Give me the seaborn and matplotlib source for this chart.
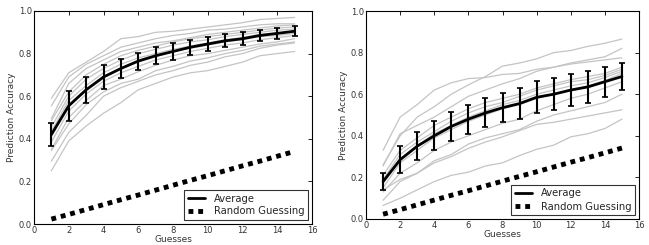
import numpy as np
import matplotlib
matplotlib.use("Agg")
import matplotlib.pyplot as plt
import seaborn as sns

guesses = list(range(1, 16))

# random guessing baseline
random_guess = [0.023, 0.045, 0.068, 0.091, 0.114, 0.136, 0.159, 0.182,
                0.205, 0.227, 0.250, 0.273, 0.295, 0.318, 0.341]

# left panel
left_avg = [0.42, 0.555, 0.63, 0.69, 0.73, 0.765, 0.79, 0.81, 0.83, 0.845,
            0.86, 0.87, 0.885, 0.895, 0.905]
left_err = [0.055, 0.07, 0.06, 0.055, 0.045, 0.04, 0.04, 0.04, 0.035, 0.035,
            0.03, 0.03, 0.027, 0.025, 0.023]
left_users = [
    [0.59, 0.71, 0.76, 0.81, 0.87, 0.88, 0.90, 0.905, 0.915, 0.925, 0.935, 0.945, 0.96, 0.965, 0.97],
    [0.555, 0.69, 0.75, 0.79, 0.83, 0.85, 0.87, 0.885, 0.895, 0.91, 0.915, 0.925, 0.935, 0.94, 0.94],
    [0.495, 0.66, 0.73, 0.77, 0.81, 0.83, 0.85, 0.86, 0.875, 0.89, 0.90, 0.91, 0.92, 0.93, 0.935],
    [0.485, 0.62, 0.70, 0.75, 0.79, 0.815, 0.835, 0.855, 0.87, 0.88, 0.89, 0.90, 0.91, 0.92, 0.925],
    [0.455, 0.60, 0.68, 0.73, 0.77, 0.80, 0.82, 0.84, 0.855, 0.865, 0.88, 0.89, 0.90, 0.91, 0.915],
    [0.435, 0.58, 0.65, 0.71, 0.75, 0.78, 0.80, 0.82, 0.835, 0.85, 0.865, 0.875, 0.89, 0.895, 0.905],
    [0.41, 0.56, 0.63, 0.69, 0.73, 0.76, 0.785, 0.81, 0.825, 0.84, 0.855, 0.865, 0.88, 0.885, 0.895],
    [0.385, 0.53, 0.61, 0.67, 0.71, 0.74, 0.77, 0.79, 0.81, 0.825, 0.84, 0.85, 0.865, 0.875, 0.885],
    [0.35, 0.50, 0.58, 0.65, 0.68, 0.715, 0.745, 0.77, 0.79, 0.80, 0.815, 0.83, 0.845, 0.855, 0.87],
    [0.345, 0.47, 0.56, 0.62, 0.66, 0.68, 0.72, 0.74, 0.765, 0.78, 0.80, 0.815, 0.835, 0.845, 0.855],
    [0.295, 0.43, 0.51, 0.60, 0.64, 0.67, 0.70, 0.72, 0.745, 0.76, 0.785, 0.80, 0.825, 0.84, 0.85],
    [0.25, 0.39, 0.46, 0.52, 0.57, 0.63, 0.66, 0.69, 0.71, 0.72, 0.74, 0.76, 0.79, 0.80, 0.81],
]

# right panel
right_avg = [0.18, 0.285, 0.35, 0.40, 0.445, 0.48, 0.51, 0.535, 0.555, 0.585,
             0.60, 0.62, 0.635, 0.66, 0.685]
right_err = [0.042, 0.065, 0.068, 0.07, 0.07, 0.07, 0.07, 0.07, 0.075, 0.077,
             0.078, 0.075, 0.077, 0.073, 0.065]
right_users = [
    [0.33, 0.49, 0.55, 0.62, 0.655, 0.675, 0.68, 0.695, 0.70, 0.72, 0.73, 0.745, 0.755, 0.765, 0.775],
    [0.26, 0.40, 0.49, 0.54, 0.60, 0.645, 0.685, 0.735, 0.75, 0.77, 0.80, 0.81, 0.83, 0.845, 0.865],
    [0.255, 0.41, 0.45, 0.49, 0.54, 0.59, 0.62, 0.65, 0.675, 0.71, 0.73, 0.75, 0.765, 0.78, 0.82],
    [0.21, 0.33, 0.39, 0.45, 0.49, 0.53, 0.56, 0.58, 0.60, 0.63, 0.65, 0.67, 0.685, 0.70, 0.73],
    [0.19, 0.31, 0.37, 0.42, 0.47, 0.51, 0.54, 0.56, 0.59, 0.62, 0.64, 0.66, 0.67, 0.69, 0.72],
    [0.17, 0.29, 0.35, 0.41, 0.45, 0.49, 0.52, 0.55, 0.57, 0.60, 0.62, 0.64, 0.655, 0.68, 0.71],
    [0.15, 0.27, 0.33, 0.39, 0.43, 0.47, 0.50, 0.53, 0.55, 0.58, 0.60, 0.62, 0.64, 0.665, 0.70],
    [0.13, 0.22, 0.27, 0.33, 0.37, 0.40, 0.43, 0.46, 0.48, 0.52, 0.55, 0.58, 0.60, 0.63, 0.66],
    [0.14, 0.19, 0.22, 0.28, 0.31, 0.36, 0.39, 0.41, 0.43, 0.47, 0.50, 0.52, 0.54, 0.56, 0.60],
    [0.09, 0.18, 0.22, 0.27, 0.30, 0.34, 0.37, 0.395, 0.425, 0.455, 0.465, 0.48, 0.495, 0.51, 0.525],
    [0.065, 0.10, 0.14, 0.18, 0.21, 0.225, 0.255, 0.27, 0.305, 0.335, 0.355, 0.395, 0.41, 0.435, 0.48],
]

sns.set_style("white")
plt.rcParams['font.family'] = ['DejaVu Sans']

W, H = 649, 245
fig = plt.figure(figsize=(W / 100, H / 100), dpi=100)
ax1 = fig.add_axes([34 / W, 1 - 224 / H, 278 / W, 213 / H])
ax2 = fig.add_axes([366 / W, 1 - 219 / H, 273 / W, 208 / H])

panels = [(ax1, left_users, left_avg, left_err), (ax2, right_users, right_avg, right_err)]
for ax, users, avg, err in panels:
    for u in users:
        sns.lineplot(x=guesses, y=u, ax=ax, color="#c4c4c4", lw=0.9, legend=False)
    ax.errorbar(guesses, avg, yerr=err, fmt="none", ecolor="black",
                elinewidth=1.5, capsize=2, capthick=1.2, zorder=4)
    sns.lineplot(x=guesses, y=avg, ax=ax, color="black", lw=2, label="Average", zorder=5)
    sns.lineplot(x=guesses, y=random_guess, ax=ax, color="black", lw=3.5,
                 linestyle=(0, (1, 1)), label="Random Guessing")
    ax.set_xlim(0, 16)
    ax.set_ylim(0, 1.0)
    ax.set_xticks(range(0, 17, 2))
    ax.set_yticks(np.arange(0, 1.01, 0.2))
    ax.set_yticklabels([f"{v:.1f}" for v in np.arange(0, 1.01, 0.2)])
    ax.tick_params(direction="in", top=True, right=True, length=3, width=0.6,
                   labelsize=6, pad=1.5, colors="black")
    ax.tick_params(axis="x", labelcolor="#333333")
    ax.tick_params(axis="y", labelcolor="#333333")
    for s in ax.spines.values():
        s.set_color("black")
        s.set_linewidth(0.8)
    ax.set_xlabel("Guesses", fontsize=6.5, labelpad=0, color="#333333")
    ax.set_ylabel("Prediction Accuracy", fontsize=6.5, labelpad=2, color="#333333")
    leg = ax.legend(loc="lower right", fontsize=7.2, frameon=True, fancybox=False,
                    borderaxespad=0.4, handlelength=1.7, borderpad=0.35,
                    labelspacing=0.3, handletextpad=0.9)
    leg.get_frame().set_edgecolor("black")
    leg.get_frame().set_linewidth(0.8)

fig.savefig("out.png", dpi=100)
